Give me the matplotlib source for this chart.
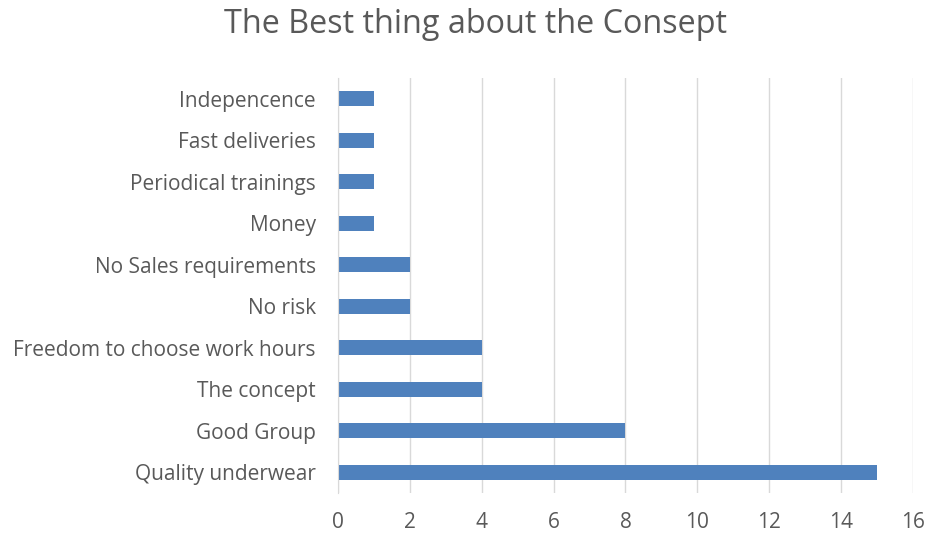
import numpy as np
import matplotlib.pyplot as plt

plt.rcParams['font.family'] = ['Open Sans', 'DejaVu Sans']

reasons = [
    "Quality underwear",
    "Good Group",
    "The concept",
    "Freedom to choose work hours",
    "No risk",
    "No Sales requirements",
    "Money",
    "Periodical trainings",
    "Fast deliveries",
    "Indepencence",
]
counts = [15, 8, 4, 4, 2, 2, 1, 1, 1, 1]

text_color = "#595959"
grid_color = "#d9d9d9"

fig = plt.figure(figsize=(9.28, 5.37), dpi=100)
ax = fig.add_axes([0.3642, 0.0819, 0.6196, 0.7728])

y = np.arange(len(reasons))
ax.barh(y, counts, height=0.36, color="#4F81BD", zorder=3)

ax.set_xlim(0, 16)
ax.set_ylim(-0.5, len(reasons) - 0.5)
ax.set_xticks(np.arange(0, 17, 2))
ax.set_yticks(y)
ax.set_yticklabels(reasons)

ax.grid(axis="x", color=grid_color, linewidth=1, zorder=0)
for s in ["top", "right", "bottom"]:
    ax.spines[s].set_visible(False)
ax.spines["left"].set_color(grid_color)
ax.spines["left"].set_zorder(4)

ax.tick_params(axis="both", length=0, labelsize=15, colors=text_color)
ax.tick_params(axis="x", pad=14)
ax.tick_params(axis="y", pad=16)

fig.text(0.512, 0.955, "The Best thing about the Consept", ha="center", va="center",
         fontsize=23.3, color=text_color)

fig.savefig("out.png", dpi=100)
